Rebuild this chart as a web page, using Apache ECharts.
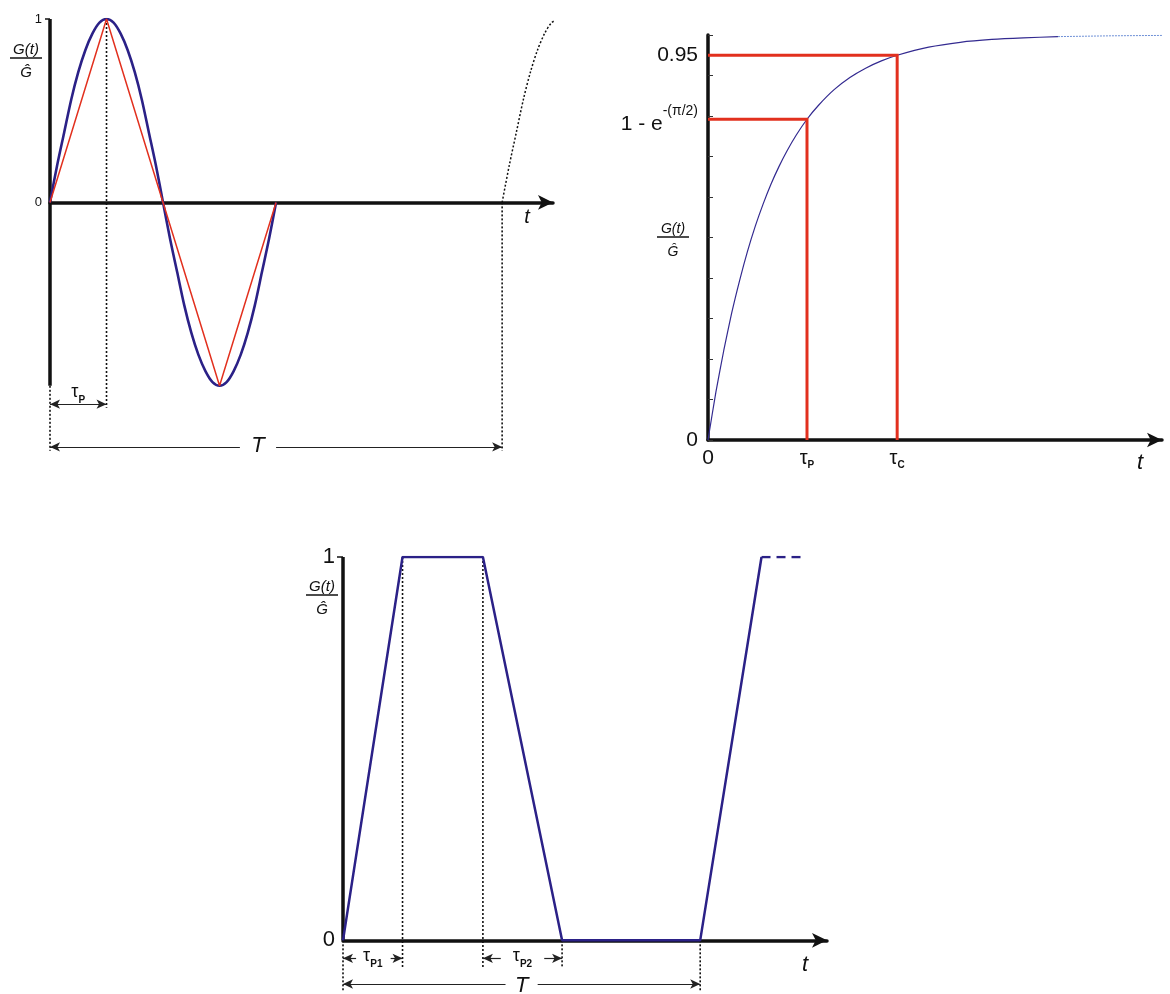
<!DOCTYPE html>
<html>
<head>
<meta charset="utf-8">
<script src="https://cdn.jsdelivr.net/npm/echarts@6/dist/echarts.min.js"></script>
<style>
  html, body { margin: 0; background: #fff; }
  #chart { width: 1170px; height: 994px; }
</style>
</head>
<body>
<div id="chart"></div>
<script>
// sine pulse (one period) and its triangular approximation, then rest until T
var sineT = [0, 0.125, 0.25, 0.375, 0.5, 0.625, 0.75, 0.875, 1, 1.125, 1.25, 1.375, 1.5, 1.625, 1.75, 1.875, 2,
             2.125, 2.25, 2.375, 2.5, 2.625, 2.75, 2.875, 3, 3.125, 3.25, 3.375, 3.5, 3.625, 3.75, 3.875, 4];
var sineG = [0, 0.2, 0.38, 0.56, 0.71, 0.83, 0.92, 0.98, 1, 0.98, 0.92, 0.83, 0.71, 0.56, 0.38, 0.2, 0,
             -0.2, -0.38, -0.56, -0.71, -0.83, -0.92, -0.98, -1, -0.98, -0.92, -0.83, -0.71, -0.56, -0.38, -0.2, 0];
var triT = [0, 1, 2, 3, 4];
var triG = [0, 1, 0, -1, 0];
var nextT = [8, 8.125, 8.25, 8.375, 8.5, 8.625, 8.75, 8.875, 9];
var nextG = [0, 0.2, 0.38, 0.56, 0.71, 0.83, 0.92, 0.98, 1];
var tauP1 = 1;
var period1 = 8;

// step response
var stepT = [0, 0.125, 0.25, 0.375, 0.5, 0.625, 0.75, 0.875, 1, 1.125, 1.25, 1.4, 1.57, 1.75, 2, 2.25, 2.5, 2.75, 3, 3.5, 4, 4.5, 5, 5.55];
var stepG = [0, 0.118, 0.221, 0.313, 0.393, 0.465, 0.528, 0.583, 0.632, 0.675, 0.713, 0.753, 0.792, 0.826, 0.865,
             0.895, 0.918, 0.936, 0.95, 0.97, 0.982, 0.989, 0.993, 0.996];
var tailT = [5.55, 6.4, 7.2];
var tailG = [0.996, 0.998, 0.999];
var tauP = 1.57, tauC = 3;
var levelP = 0.792, levelC = 0.95;

// trapezoidal pulse
var trapT = [0, 1, 2.35, 3.68, 6, 7.03];
var trapG = [0, 1, 1, 0, 0, 1];
var contT = [7.03, 7.78];
var contG = [1, 1];
var rise3 = 1, flatEnd3 = 2.35, fallEnd3 = 3.68, period3 = 6;

var BLACK = '#111';
var NAVY = '#2b2187';
var RED = '#e2301e';
var FONT = 'Arial, "Liberation Sans", sans-serif';

function pairs(xs, ys) {
  return xs.map(function (x, i) { return [x, ys[i]]; });
}

function guide(g, x, y1, y2) {
  return {
    type: 'line', xAxisIndex: g, yAxisIndex: g, silent: true, symbol: 'none', z: 1,
    data: [[x, y1], [x, y2]],
    lineStyle: { color: BLACK, width: 1.6, type: [2, 2] }
  };
}

function yLine(g, y1, y2) {
  return {
    type: 'line', xAxisIndex: g, yAxisIndex: g, silent: true, symbol: 'none', z: 1,
    data: [[0, y1], [0, y2]],
    lineStyle: { color: BLACK, width: 3.5 }
  };
}

// arrow segment for dimension lines
function seg(x1, x2, y, a1, a2) {
  return [
    { coord: [x1, y], symbol: a1 ? 'arrow' : 'none' },
    { coord: [x2, y], symbol: a2 ? 'arrow' : 'none' }
  ];
}

function dims(g, list) {
  return {
    type: 'line', xAxisIndex: g, yAxisIndex: g, silent: true, symbol: 'none',
    data: [[0, 0]],
    markLine: {
      silent: true, symbolSize: [7, 10], label: { show: false },
      lineStyle: { color: '#222', width: 1.2, type: 'solid' },
      data: list
    }
  };
}

function richSet(tauSize) {
  return {
    t: { fontFamily: FONT, fontSize: tauSize, fill: BLACK, color: BLACK, lineHeight: 22, verticalAlign: 'top' },
    s: { fontFamily: FONT, fontSize: 10, fontWeight: 'bold', fill: BLACK, color: BLACK, lineHeight: 12, verticalAlign: 'bottom' },
    T: { fontFamily: FONT, fontSize: 22, fontStyle: 'italic', fill: BLACK, color: BLACK },
    n: { fontFamily: FONT, fontSize: 21, color: BLACK },
    sup: { fontFamily: FONT, fontSize: 14, color: BLACK, lineHeight: 12, verticalAlign: 'top' },
    big: { fontFamily: FONT, fontSize: 21, color: BLACK, lineHeight: 30, verticalAlign: 'bottom' }
  };
}

function fraction(cx, yTop, size) {
  return [
    { type: 'text', x: cx, y: yTop, style: { text: 'G(t)', font: 'italic ' + size + 'px ' + FONT, fill: BLACK, textAlign: 'center', textVerticalAlign: 'middle' } },
    { type: 'line', shape: { x1: cx - 16, y1: yTop + 8, x2: cx + 16, y2: yTop + 8 }, style: { stroke: BLACK, lineWidth: 1.5 } },
    { type: 'text', x: cx, y: yTop + 23, style: { text: 'Ĝ', font: 'italic ' + size + 'px ' + FONT, fill: BLACK, textAlign: 'center', textVerticalAlign: 'middle' } }
  ];
}

function tLabel(x, y, size) {
  return { type: 'text', x: x, y: y, style: { text: 't', font: 'italic ' + size + 'px ' + FONT, fill: BLACK, textAlign: 'center', textVerticalAlign: 'middle' } };
}

function xAx(g, max, extra) {
  var ax = {
    type: 'value', gridIndex: g, min: 0, max: max,
    splitLine: { show: false },
    axisTick: { show: false },
    axisLabel: { show: false },
    axisLine: {
      show: true, onZero: true, symbol: ['none', 'arrow'], symbolSize: [11, 15],
      lineStyle: { color: BLACK, width: 3.5 }
    }
  };
  return Object.assign(ax, extra || {});
}

var chart = echarts.init(document.getElementById('chart'));

var option = {
  animation: false,
  backgroundColor: '#fff',
  grid: [
    { left: 50, top: 19, width: 503, height: 431 },
    { left: 708, top: 35, width: 454, height: 405 },
    { left: 343, top: 557, width: 484, height: 440 }
  ],
  xAxis: [
    xAx(0, 8.9),
    xAx(1, 7.2, {
      axisLabel: {
        show: true, margin: 8, customValues: [0, tauP, tauC],
        formatter: function (v) {
          if (v === 0) return '{n|0}';
          return v === tauP ? '{t|τ}{s|P}' : '{t|τ}{s|C}';
        },
        rich: richSet(20)
      }
    }),
    xAx(2, 8.13)
  ],
  yAxis: [
    {
      type: 'value', gridIndex: 0, min: -1.35, max: 1,
      splitLine: { show: false },
      axisLine: { show: false },
      axisTick: { show: true, customValues: [1], length: 5, lineStyle: { color: BLACK, width: 1.5 } },
      axisLabel: { customValues: [0, 1], margin: 8, fontFamily: FONT, fontSize: 13, color: BLACK }
    },
    {
      type: 'value', gridIndex: 1, min: 0, max: 1, interval: 0.1,
      splitLine: { show: false },
      axisLine: { show: true, lineStyle: { color: BLACK, width: 3.5 } },
      axisTick: { show: true, inside: true, length: 5, lineStyle: { color: '#333', width: 1 } },
      axisLabel: {
        customValues: [0, levelP, levelC], margin: 10,
        formatter: function (v) {
          if (v === 0) return '{n|0}';
          if (v === levelC) return '{n|0.95}';
          return '{big|1 - e}{sup|-(π/2)}';
        },
        rich: richSet(20)
      }
    },
    {
      type: 'value', gridIndex: 2, min: -0.14, max: 1,
      splitLine: { show: false },
      axisLine: { show: false },
      axisTick: { show: true, customValues: [1], length: 6, lineStyle: { color: BLACK, width: 1.5 } },
      axisLabel: { customValues: [0, 1], margin: 8, fontFamily: FONT, fontSize: 22, color: BLACK }
    }
  ],
  series: [
    // ---- top left ----
    yLine(0, -1, 1),
    guide(0, 0, -1, -1.36),
    guide(0, tauP1, 1, -1.12),
    guide(0, period1, 0, -1.36),
    {
      type: 'line', xAxisIndex: 0, yAxisIndex: 0, smooth: 0.3, symbol: 'none', silent: true,
      data: pairs(sineT, sineG), lineStyle: { color: NAVY, width: 2.6 }
    },
    {
      type: 'line', xAxisIndex: 0, yAxisIndex: 0, symbol: 'none', silent: true, z: 3,
      data: pairs(triT, triG), lineStyle: { color: RED, width: 1.5 }
    },
    {
      type: 'line', xAxisIndex: 0, yAxisIndex: 0, smooth: 0.3, symbol: 'none', silent: true, clip: false,
      data: pairs(nextT, nextG), lineStyle: { color: BLACK, width: 1.5, type: [2, 2] }
    },
    dims(0, [
      seg(0, tauP1, -1.1, true, true),
      seg(0, period1 * 0.42, -1.333, true, false),
      seg(period1 * 0.5, period1, -1.333, false, true)
    ]),

    // ---- top right ----
    {
      type: 'line', xAxisIndex: 1, yAxisIndex: 1, smooth: 0.2, symbol: 'none', silent: true,
      data: pairs(stepT, stepG), lineStyle: { color: '#332a90', width: 1.2 }
    },
    {
      type: 'line', xAxisIndex: 1, yAxisIndex: 1, symbol: 'none', silent: true,
      data: pairs(tailT, tailG), lineStyle: { color: '#6d8fd6', width: 1, type: [2, 1] }
    },
    {
      type: 'line', xAxisIndex: 1, yAxisIndex: 1, symbol: 'none', silent: true, z: 4,
      data: [[0, levelP], [tauP, levelP], [tauP, 0]], lineStyle: { color: RED, width: 3, join: 'miter' }
    },
    {
      type: 'line', xAxisIndex: 1, yAxisIndex: 1, symbol: 'none', silent: true, z: 4,
      data: [[0, levelC], [tauC, levelC], [tauC, 0]], lineStyle: { color: RED, width: 3, join: 'miter' }
    },

    // ---- bottom ----
    yLine(2, 0, 1),
    guide(2, 0, 0, -0.13),
    guide(2, rise3, 1, -0.07),
    guide(2, flatEnd3, 1, -0.07),
    guide(2, fallEnd3, 0, -0.07),
    guide(2, period3, 0, -0.13),
    {
      type: 'line', xAxisIndex: 2, yAxisIndex: 2, symbol: 'none', silent: true, z: 3,
      data: pairs(trapT, trapG), lineStyle: { color: NAVY, width: 2.5 }
    },
    {
      type: 'line', xAxisIndex: 2, yAxisIndex: 2, symbol: 'none', silent: true,
      data: pairs(contT, contG), lineStyle: { color: NAVY, width: 2.5, type: [9, 6] }
    },
    dims(2, [
      seg(0, rise3 * 0.22, -0.047, true, false),
      seg(rise3 * 0.8, rise3, -0.047, false, true),
      seg(flatEnd3, flatEnd3 + 0.3, -0.047, true, false),
      seg(fallEnd3 - 0.3, fallEnd3, -0.047, false, true),
      seg(0, period3 / 2 - 0.27, -0.114, true, false),
      seg(period3 / 2 + 0.27, period3, -0.114, false, true)
    ])
  ],
  graphic: [].concat(
    fraction(26, 50, 15),
    fraction(673, 229, 14),
    fraction(322, 587, 15),
    [tLabel(527, 217, 20), tLabel(1140, 463, 22), tLabel(805, 965, 22)]
  )
};

chart.setOption(option);

// labels on the dimension arrows, placed through the grids' own scales
var dimLabels = [
  [0, tauP1 / 2, -1.045, '{t|τ}{s|P}'],
  [0, period1 * 0.46, -1.33, '{T|T}'],
  [2, rise3 / 2, -0.047, '{t|τ}{s|P1}'],
  [2, (flatEnd3 + fallEnd3) / 2, -0.047, '{t|τ}{s|P2}'],
  [2, period3 / 2, -0.118, '{T|T}']
];
var extra = dimLabels.map(function (d) {
  var p = chart.convertToPixel({ gridIndex: d[0] }, [d[1], d[2]]);
  return {
    type: 'text', x: p[0], y: p[1], z: 10,
    style: { text: d[3], rich: richSet(18), fill: BLACK, align: 'center', verticalAlign: 'middle' }
  };
});
chart.setOption({ graphic: option.graphic.concat(extra) });
</script>
</body>
</html>
